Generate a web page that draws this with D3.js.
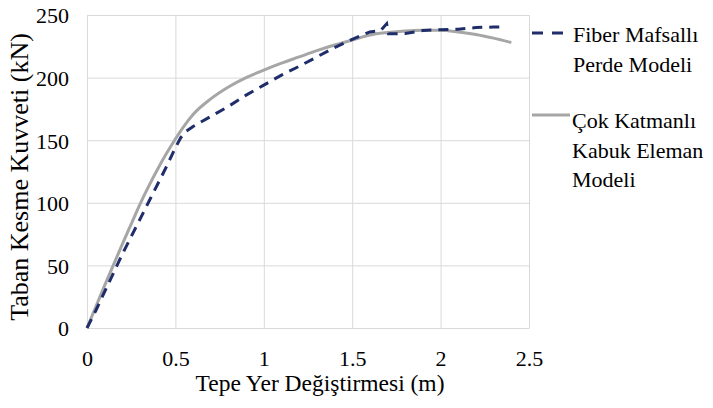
<!DOCTYPE html>
<html>
<head>
<meta charset="utf-8">
<script src="https://cdn.jsdelivr.net/npm/d3@7/dist/d3.min.js"></script>
<style>
  html, body { margin: 0; padding: 0; background: #fff; }
  svg { display: block; }
  text { font-family: "Liberation Serif", "Times New Roman", serif; fill: #000; }
</style>
</head>
<body>
<svg id="chart" width="713" height="408"></svg>
<script>
// ---- data ----
const xTicks = [0, 0.5, 1, 1.5, 2, 2.5];
const xTickLabels = ["0", "0.5", "1", "1.5", "2", "2.5"];
const yTicks = [0, 50, 100, 150, 200, 250];
const yTickLabels = ["0", "50", "100", "150", "200", "250"];

const fiberX = [0, 0.05, 0.1, 0.15, 0.2, 0.25, 0.3, 0.35, 0.4, 0.45, 0.5, 0.53, 0.56, 0.6, 0.7, 0.8, 0.9, 1.0, 1.1, 1.2, 1.3, 1.4, 1.5, 1.55, 1.6, 1.66, 1.695, 1.705, 1.75, 1.8, 1.9, 2.0, 2.1, 2.2, 2.3, 2.37];
const fiberY = [0, 14, 29, 44, 59, 73, 87, 101, 115, 129, 144, 152, 157, 161, 169, 177, 186, 194, 202, 209, 216.5, 224, 230.5, 233.5, 236.5, 237.5, 243, 235, 235, 235.3, 237.6, 238.3, 238.6, 240, 240.4, 240.5];

const shellX = [0, 0.05, 0.1, 0.15, 0.2, 0.25, 0.3, 0.35, 0.4, 0.45, 0.5, 0.55, 0.6, 0.7, 0.8, 0.9, 1.0, 1.1, 1.2, 1.3, 1.4, 1.5, 1.6, 1.7, 1.8, 1.9, 2.0, 2.1, 2.2, 2.3, 2.4];
const shellY = [0, 17, 34, 50.5, 67, 83, 99, 113.5, 127, 139.5, 151, 161.5, 170.5, 183, 192.5, 200, 206, 211.5, 216.5, 221.5, 226, 230, 234, 236, 237.3, 237.8, 237.8, 236.5, 234.5, 231.5, 228];

const seriesNames = [["Fiber Mafsallı", "Perde Modeli"], ["Çok Katmanlı", "Kabuk Eleman", "Modeli"]];
const xTitle = "Tepe Yer Değiştirmesi (m)";
const yTitle = "Taban Kesme Kuvveti (kN)";

// ---- layout ----
const pL = 87, pR = 529, pT = 15, pB = 328;
const svg = d3.select("#chart");
const x = d3.scaleLinear().domain([0, 2.5]).range([pL, pR]);
const y = d3.scaleLinear().domain([0, 250]).range([pB, pT]);

const gridColor = "#d9d9d9";
const serif = "Liberation Serif, Times New Roman, serif";

// vertical gridlines
const gx = svg.append("g").attr("transform", `translate(0,${pB})`)
  .call(d3.axisBottom(x).tickValues(xTicks).tickSize(-(pB - pT)).tickFormat(""));
gx.select(".domain").remove();
gx.selectAll("line").attr("stroke", gridColor).attr("stroke-width", 1);

// horizontal gridlines
const gy = svg.append("g").attr("transform", `translate(${pL},0)`)
  .call(d3.axisLeft(y).tickValues(yTicks).tickSize(-(pR - pL)).tickFormat(""));
gy.select(".domain").remove();
gy.selectAll("line").attr("stroke", gridColor).attr("stroke-width", 1);

// x axis labels
const ax = svg.append("g").attr("transform", `translate(0,${pB})`)
  .attr("font-family", serif)
  .call(d3.axisBottom(x).tickValues(xTicks).tickSize(0).tickPadding(22)
    .tickFormat((d, i) => xTickLabels[i]));
ax.attr("font-family", serif);
ax.select(".domain").attr("stroke", gridColor);
ax.selectAll("text").attr("font-size", 22).attr("fill", "#000");

// y axis labels
const ay = svg.append("g").attr("transform", `translate(${pL},0)`)
  .call(d3.axisLeft(y).tickValues(yTicks).tickSize(0).tickPadding(18)
    .tickFormat((d, i) => yTickLabels[i]));
ay.attr("font-family", serif);
ay.select(".domain").attr("stroke", gridColor);
ay.selectAll("text").attr("font-size", 22).attr("dy", "0.36em").attr("fill", "#000");

// lines
const shell = shellX.map((v, i) => [v, shellY[i]]);
const fiber = fiberX.map((v, i) => [v, fiberY[i]]);

svg.append("path").datum(shell)
  .attr("fill", "none").attr("stroke", "#a6a6a6").attr("stroke-width", 3)
  .attr("stroke-linejoin", "round")
  .attr("d", d3.line().x(d => x(d[0])).y(d => y(d[1])).curve(d3.curveMonotoneX));

svg.append("path").datum(fiber)
  .attr("fill", "none").attr("stroke", "#1f2d6b").attr("stroke-width", 3)
  .attr("stroke-dasharray", "10,7")
  .attr("d", d3.line().x(d => x(d[0])).y(d => y(d[1])));

// axis titles
svg.append("text").attr("x", 320).attr("y", 391).attr("text-anchor", "middle")
  .attr("font-size", 23.5).text(xTitle);
svg.append("text").attr("transform", "translate(28,177) rotate(-90)")
  .attr("text-anchor", "middle").attr("font-size", 26).text(yTitle);

// legend
const lg = svg.append("g");
lg.append("line").attr("x1", 532).attr("x2", 566).attr("y1", 33).attr("y2", 33)
  .attr("stroke", "#1f2d6b").attr("stroke-width", 3).attr("stroke-dasharray", "11,9");
lg.append("line").attr("x1", 532).attr("x2", 570).attr("y1", 115).attr("y2", 115)
  .attr("stroke", "#a6a6a6").attr("stroke-width", 3);
const lt1 = lg.append("text").attr("x", 573).attr("y", 42).attr("font-size", 22);
seriesNames[0].forEach((s, i) => lt1.append("tspan").attr("x", 573).attr("dy", i ? 30 : 0).text(s));
const lt2 = lg.append("text").attr("x", 572).attr("y", 128).attr("font-size", 22);
seriesNames[1].forEach((s, i) => lt2.append("tspan").attr("x", 572).attr("dy", i ? 29.5 : 0).text(s));
</script>
</body>
</html>
